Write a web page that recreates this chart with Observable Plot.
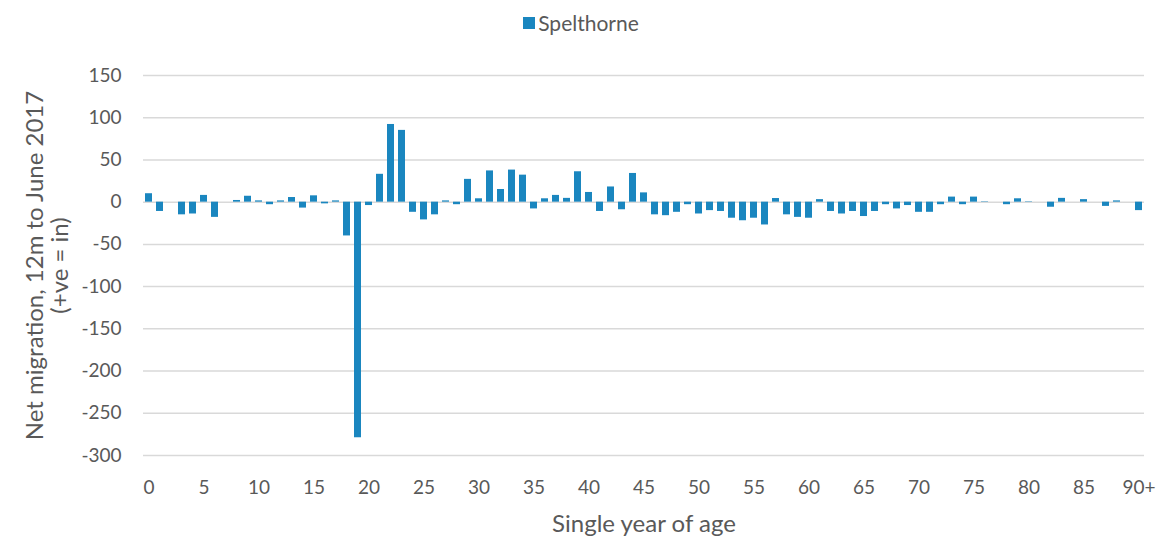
<!DOCTYPE html>
<html>
<head>
<meta charset="utf-8">
<script src="https://cdn.jsdelivr.net/npm/d3@7"></script>
<script src="https://cdn.jsdelivr.net/npm/@observablehq/plot@0.6"></script>
<style>
  html, body { margin: 0; padding: 0; background: #fff; }
  body { width: 1162px; height: 538px; overflow: hidden; font-family: Lato, "Open Sans", sans-serif; }
  #legend { height: 44px; display: flex; align-items: center; justify-content: center; color: #595959; font-size: 21px; }
  #legend .sw { width: 12px; height: 12px; background: #1a86bf; margin-right: 3px; margin-top: 1px; }
</style>
</head>
<body>
<div id="legend"><span class="sw"></span><span>Spelthorne</span></div>
<div id="chart"></div>
<script>
const ages = [0,1,2,3,4,5,6,7,8,9,10,11,12,13,14,15,16,17,18,19,20,21,22,23,24,25,26,27,28,29,30,31,32,33,34,35,36,37,38,39,40,41,42,43,44,45,46,47,48,49,50,51,52,53,54,55,56,57,58,59,60,61,62,63,64,65,66,67,68,69,70,71,72,73,74,75,76,77,78,79,80,81,82,83,84,85,86,87,88,89,90];
const values = [10,-11,0,-15,-14,8,-18,0,2,7,1.5,-3,1.5,5.5,-7,7.5,-2,1.5,-40,-279,-4,33,92,85,-12,-21,-15,1.5,-3,27,4,37,15,38,32,-8,4,8,4.5,36,11.5,-11,18,-9,34,11,-15,-16,-12,-3,-14,-10,-11,-19,-22,-19,-27,4.3,-15,-18,-19,3,-11,-14,-11,-17,-11,-3,-8,-4,-12,-12,-3,6,-3,6,0.5,0,-3,4,0.5,0,-6,4.5,0,3,0,-5,1.5,0,-10];
const yTicks = [-300,-250,-200,-150,-100,-50,0,50,100,150];
const seriesName = "Spelthorne";
const yTitle = "Net migration, 12m to June 2017\n(+ve = in)";
const xTitle = "Single year of age";

const data = ages.map((a, i) => ({age: a, value: values[i]}));

const chart = Plot.plot({
  width: 1162,
  height: 494,
  marginLeft: 143,
  marginRight: 18,
  marginTop: 31,
  marginBottom: 83,
  style: {fontFamily: "Lato, 'Open Sans', sans-serif", fontSize: "19px", color: "#595959", background: "#fff", overflow: "visible"},
  x: {type: "band", domain: ages, paddingInner: 0.35, paddingOuter: 0.175, label: null, axis: null},
  y: {domain: [-300, 150], label: null, axis: null},
  marks: [
    Plot.ruleY(yTicks, {stroke: "#d9d9d9", strokeWidth: 1.5}),
    Plot.barY(data, {x: "age", y: "value", fill: "#1a86bf"}),
    Plot.axisY({ticks: yTicks, tickSize: 0, tickPadding: 22, label: null, fill: "#595959", tickFormat: d => String(d)}),
    Plot.axisX({tickSize: 0, tickPadding: 25, label: null, fill: "#595959",
      tickFormat: d => d % 5 === 0 ? (d === 90 ? "90+" : String(d)) : ""}),
    Plot.text([yTitle], {frameAnchor: "left", rotate: -90, dx: -96, text: d => d, fill: "#595959", fontSize: 24, lineAnchor: "middle", textAnchor: "middle", lineHeight: 1.05}),
    Plot.text([xTitle], {frameAnchor: "bottom", dy: 69, text: d => d, fill: "#595959", fontSize: 24, lineAnchor: "middle"})
  ]
});
document.getElementById("chart").appendChild(chart);
</script>
</body>
</html>
